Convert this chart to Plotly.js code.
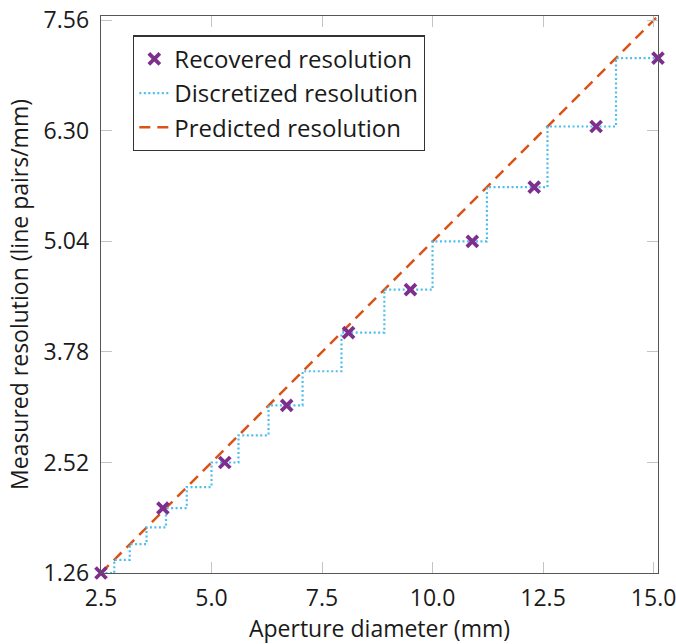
<!DOCTYPE html>
<html>
<head>
<meta charset="utf-8">
<script src="https://cdn.plot.ly/plotly-3.0.1.min.js"></script>
<style>html,body{margin:0;padding:0;background:#fff;}#chart{width:676px;height:644px;}</style>
</head>
<body>
<div id="chart"></div>
<script>
// Recovered resolution (markers)
var aperture = [2.5, 3.9, 5.3, 6.7, 8.1, 9.5, 10.9, 12.3, 13.7, 15.1];
var recovered = [1.26, 2.00, 2.52, 3.17, 4.00, 4.49, 5.04, 5.66, 6.35, 7.13];

// Discretized resolution (staircase)
var stepX = [2.5, 2.80, 3.15, 3.53, 3.97, 4.44, 5.00, 5.61, 6.29, 7.06, 7.94, 8.91, 10.00, 11.23, 12.60, 14.15, 15.1];
var stepY = [1.26, 1.41, 1.59, 1.78, 2.00, 2.24, 2.52, 2.83, 3.17, 3.56, 4.00, 4.49, 5.04, 5.66, 6.35, 7.13, 7.13];

// Predicted resolution (line)
var predX = [2.5, 15.1];
var predY = [1.26, 7.61];

// Ticks
var xTickVals = [2.5, 5.0, 7.5, 10.0, 12.5, 15.0];
var xTickText = ['2.5', '5.0', '7.5', '10.0', '12.5', '15.0'];
var yTickVals = [1.26, 2.52, 3.78, 5.04, 6.30, 7.56];
var yTickText = ['1.26', '2.52', '3.78', '5.04', '6.30', '7.56'];

var FONT = 'Open Sans, sans-serif';
var TXT = '#1a1a1a';

var traces = [
  {
    x: predX, y: predY, type: 'scatter', mode: 'lines',
    name: 'Predicted resolution',
    line: {color: '#D95319', width: 2.5, dash: '11px,7px'}
  },
  {
    x: stepX, y: stepY, type: 'scatter', mode: 'lines',
    name: 'Discretized resolution',
    line: {color: '#4DBEEE', width: 2.2, dash: '2px,2.5px', shape: 'hv'}
  },
  {
    x: aperture, y: recovered, type: 'scatter', mode: 'markers',
    name: 'Recovered resolution', cliponaxis: false,
    marker: {symbol: 'x-thin', size: 11, color: '#7E2F8E', line: {color: '#7E2F8E', width: 3.8}}
  }
];

var axisCommon = {
  showgrid: false, zeroline: false,
  showline: true, linecolor: '#555', linewidth: 1.3,
  mirror: 'ticks', ticks: 'inside', ticklen: 11, tickwidth: 1, tickcolor: '#c4c4c4',
  ticklabeloverflow: 'allow',
  tickfont: {family: FONT, size: 23, color: TXT}
};

var layout = {
  width: 676, height: 644,
  margin: {l: 101, r: 18, t: 16, b: 71},
  paper_bgcolor: '#fff', plot_bgcolor: '#fff',
  font: {family: FONT, color: TXT},
  showlegend: true,
  legend: {
    x: 0.0575, y: 0.965, xanchor: 'left', yanchor: 'top',
    traceorder: 'reversed',
    bgcolor: '#fff', bordercolor: '#333', borderwidth: 1.3,
    font: {family: FONT, size: 24, color: TXT}
  },
  xaxis: Object.assign({}, axisCommon, {
    range: [2.5, 15.1], tickmode: 'array', tickvals: xTickVals, ticktext: xTickText,
    ticklabelstandoff: 4,
    title: {text: 'Aperture diameter (mm)', font: {family: FONT, size: 23, color: TXT}, standoff: 2}
  }),
  yaxis: Object.assign({}, axisCommon, {
    range: [1.26, 7.61], tickmode: 'array', tickvals: yTickVals, ticktext: yTickText,
    ticklabelstandoff: 6,
    title: {text: 'Measured resolution (line pairs/mm)', font: {family: FONT, size: 23, color: TXT}, standoff: 8}
  })
};

Plotly.newPlot('chart', traces, layout, {displayModeBar: false, staticPlot: true});
</script>
</body>
</html>
